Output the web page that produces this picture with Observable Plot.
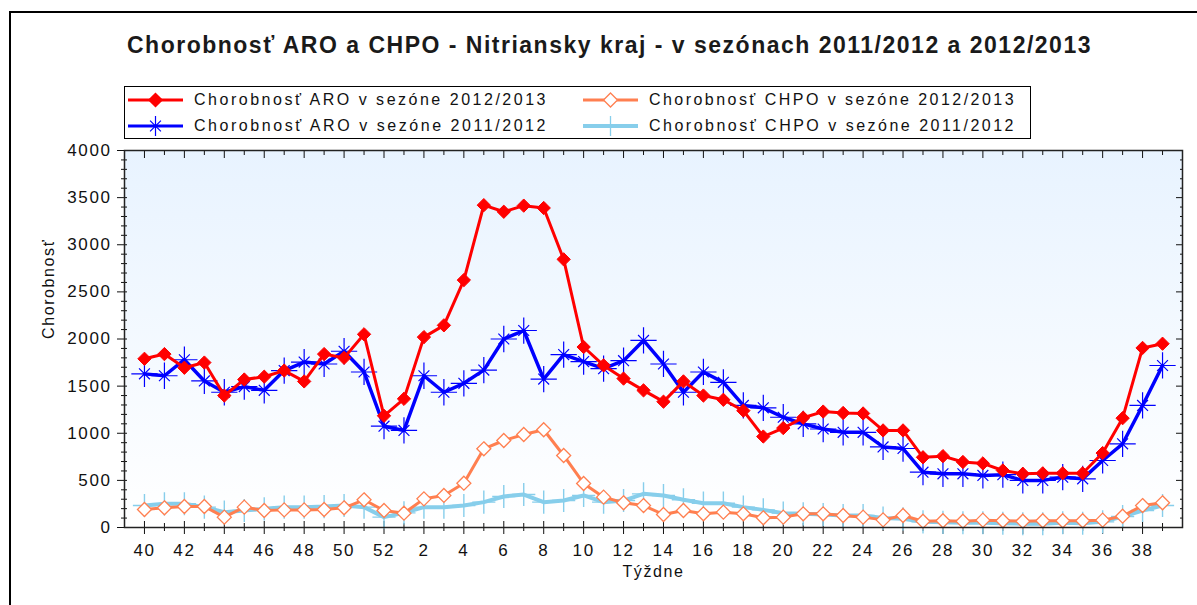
<!DOCTYPE html>
<html><head><meta charset="utf-8">
<script src="https://cdn.jsdelivr.net/npm/d3@7"></script>
<script src="https://cdn.jsdelivr.net/npm/@observablehq/plot@0.6"></script>
<style>
body{margin:0;background:#fff;font-family:"Liberation Sans",Arial,sans-serif;}
#page{position:relative;width:1197px;height:605px;overflow:hidden;background:#fff;}
#border{position:absolute;left:9px;top:11px;width:1400px;height:900px;border-left:2px solid #000;border-top:2px solid #000;}
#title{position:absolute;left:127px;top:31px;font-weight:bold;font-size:23px;white-space:nowrap;color:#1a1a1a;line-height:28px;}
#legend{position:absolute;left:124px;top:86px;width:905px;height:51px;border:1px solid #000;background:#fff;}
.item{position:absolute;display:flex;align-items:center;height:20px;font-size:16px;white-space:nowrap;color:#111;}
.item span{margin-left:10px;}
#chart{position:absolute;left:0;top:140px;}
</style></head>
<body><div id="page"><div id="border"></div>
<div id="title">Chorobnosť ARO a CHPO - Nitriansky kraj - v sezónach 2011/2012 a 2012/2013</div>
<div id="legend"></div>
<div id="chart"></div></div>
<script>
// Weeks of the season (x categories)
const weeks = [40,41,42,43,44,45,46,47,48,49,50,51,52,1,2,3,4,5,6,7,8,9,10,11,12,13,14,15,16,17,18,19,20,21,22,23,24,25,26,27,28,29,30,31,32,33,34,35,36,37,38,39];
const weekTickLabels = [40,42,44,46,48,50,52,2,4,6,8,10,12,14,16,18,20,22,24,26,28,30,32,34,36,38];
const yTicks = [0,500,1000,1500,2000,2500,3000,3500,4000];

// Series
const aro1213 = [1790,1840,1695,1750,1400,1570,1600,1665,1550,1840,1800,2050,1185,
  1365,2020,2145,2625,3420,3350,3415,3390,2845,1915,
  1720,1580,1455,1335,1550,1400,1355,1240,965,1055,
  1165,1230,1215,1210,1030,1030,745,757,695,680,
  605,570,575,575,575,790,1160,1905,1950];
const aro1112 = [1630,1610,1780,1555,1435,1495,1455,1665,1755,1735,1870,1650,1075,
  1030,1610,1435,1530,1670,2000,2090,1575,1835,1760,
  1685,1770,1985,1735,1435,1650,1540,1295,1270,1170,
  1100,1045,1010,1010,855,838,587,570,570,552,
  560,500,500,534,516,711,888,1295,1719];
const chpo1213 = [191,209,223,223,110,216,180,187,187,191,209,294,180,
  152,304,340,470,835,923,987,1037,764,467,
  322,262,233,138,180,145,163,145,103,110,
  145,145,127,110,81,127,67,72,67,78,
  72,67,72,72,72,78,120,233,262];
const chpo1112 = [233,251,252,216,163,180,198,216,216,222,233,216,110,
  155,216,216,233,269,329,350,269,286,340,
  269,286,357,340,294,258,258,216,187,152,
  145,138,127,127,100,92,60,55,50,50,
  45,40,40,50,45,60,117,180,233];

const seriesNames = ["Chorobnosť ARO v sezóne 2012/2013","Chorobnosť ARO v sezóne 2011/2012",
  "Chorobnosť CHPO v sezóne 2012/2013","Chorobnosť CHPO v sezóne 2011/2012"];
const colors = ["#ff0000","#0000ff","#ff7f50","#87ceeb"];

const rows = (vals, s) => vals.map((v, i) => ({i, week: weeks[i], v, s}));
const dA13 = rows(aro1213, seriesNames[0]);
const dA12 = rows(aro1112, seriesNames[1]);
const dC13 = rows(chpo1213, seriesNames[2]);
const dC12 = rows(chpo1112, seriesNames[3]);
const idx = weeks.map((w, i) => i);
const labeledIdx = idx.filter(i => weekTickLabels.includes(weeks[i]));
const oddIdx = idx.filter(i => !weekTickLabels.includes(weeks[i]));
const minorY = d3.range(0, 4001, 100).filter(v => !yTicks.includes(v));

const chart = Plot.plot({
  width: 1197, height: 460,
  marginLeft: 124, marginRight: 15, marginTop: 10, marginBottom: 73,
  style: {fontFamily: "'Liberation Sans', Arial, sans-serif", fontSize: "17px", letterSpacing: "1.6px", color: "#111", background: "transparent"},
  x: {domain: [-1, weeks.length], axis: null},
  y: {domain: [0, 4000], axis: null},
  marks: [
    Plot.frame({fill: "url(#bgGrad)", stroke: null}),
    // y axis
    Plot.axisY(yTicks, {anchor: "left", tickSize: 10, dx: 3, tickPadding: 6, tickFormat: d => String(d), label: null}),
    Plot.axisY(minorY, {anchor: "left", tickSize: 6, dx: 3, fill: "none", label: null}),
    Plot.axisY(yTicks, {anchor: "right", tickSize: 7, dx: -7, fill: "none", label: null}),
    Plot.axisY(minorY, {anchor: "right", tickSize: 3, dx: -3, fill: "none", label: null}),
    // x axis
    Plot.axisX(labeledIdx, {anchor: "bottom", tickSize: 13, dy: -6, fill: "none", label: null}),
    Plot.axisX(oddIdx, {anchor: "bottom", tickSize: 8, dy: -4, fill: "none", label: null}),
    Plot.axisX(labeledIdx, {anchor: "bottom", tickSize: 0, tickPadding: 16, tickFormat: i => String(weeks[i]), label: null}),
    Plot.axisX(labeledIdx, {anchor: "top", tickSize: 7, dy: 7, fill: "none", label: null}),
    Plot.axisX(oddIdx, {anchor: "top", tickSize: 4, dy: 4, fill: "none", label: null}),
    Plot.text(["Chorobnosť"], {frameAnchor: "left", rotate: -90, dx: -76, fontSize: 16}),
    Plot.text(["Týždne"], {frameAnchor: "bottom", dy: 49, fontSize: 16}),
    // CHPO 2011/2012
    Plot.line(dC12, {x: "i", y: "v", stroke: colors[3], strokeWidth: 4}),
    Plot.dot(dC12, {x: "i", y: "v", symbol: "plus", r: 7.5, stroke: colors[3], strokeWidth: 1.4, fill: "none"}),
    // CHPO 2012/2013
    Plot.line(dC13, {x: "i", y: "v", stroke: colors[2], strokeWidth: 3}),
    Plot.dot(dC13, {x: "i", y: "v", symbol: "diamond2", r: 6.3, stroke: colors[2], strokeWidth: 1.3, fill: "#fff"}),
    // ARO 2011/2012
    Plot.line(dA12, {x: "i", y: "v", stroke: colors[1], strokeWidth: 3.5}),
    Plot.dot(dA12, {x: "i", y: "v", symbol: "plus", r: 8.5, stroke: colors[1], strokeWidth: 1.2, fill: "none"}),
    Plot.dot(dA12, {x: "i", y: "v", symbol: "times", r: 5, stroke: colors[1], strokeWidth: 1.2, fill: "none"}),
    // ARO 2012/2013
    Plot.line(dA13, {x: "i", y: "v", stroke: colors[0], strokeWidth: 3}),
    Plot.dot(dA13, {x: "i", y: "v", symbol: "diamond2", r: 6, stroke: colors[0], strokeWidth: 1, fill: colors[0]}),
    Plot.frame({stroke: "#222", strokeWidth: 1.5})
  ]
});
// background gradient for plot area
const defs = d3.select(chart).insert("defs", ":first-child");
const g = defs.append("linearGradient").attr("id", "bgGrad").attr("x1", 0).attr("y1", 0).attr("x2", 0).attr("y2", 1);
g.append("stop").attr("offset", "0%").attr("stop-color", "#e8f3ff");
g.append("stop").attr("offset", "100%").attr("stop-color", "#ffffff");
document.getElementById("chart").appendChild(chart);

// legend
const legend = document.getElementById("legend");
const legendPos = [[3, 3], [3, 29], [458, 3], [458, 29]];
const legendSym = [
  {type: d3.symbolDiamond2, size: Math.PI * 6 * 6, fill: colors[0], stroke: colors[0]},
  {type: "asterisk"},
  {type: d3.symbolDiamond2, size: Math.PI * 6.3 * 6.3, fill: "#fff", stroke: colors[2]},
  {type: d3.symbolPlus, size: Math.PI * 7.5 * 7.5, fill: "none", stroke: colors[3]}
];
const textTargets = [354, 354, 367, 367];
seriesNames.forEach((name, k) => {
  const item = document.createElement("div");
  item.className = "item";
  item.style.left = legendPos[k][0] + "px";
  item.style.top = legendPos[k][1] + "px";
  const svg = d3.create("svg").attr("width", 56).attr("height", 20);
  svg.append("line").attr("x1", 0).attr("x2", 55).attr("y1", 10).attr("y2", 10)
    .attr("stroke", colors[k]).attr("stroke-width", k === 3 ? 4 : 3);
  const sym = legendSym[k];
  if (sym.type === "asterisk") {
    svg.append("path").attr("transform", "translate(27.5,10)").attr("d", d3.symbol(d3.symbolPlus, Math.PI * 8.5 * 8.5)()).attr("stroke", colors[1]).attr("fill", "none").attr("stroke-width", 1.2);
    svg.append("path").attr("transform", "translate(27.5,10)").attr("d", d3.symbol(d3.symbolTimes, Math.PI * 25)()).attr("stroke", colors[1]).attr("fill", "none").attr("stroke-width", 1.2);
  } else {
    svg.append("path").attr("transform", "translate(27.5,10)").attr("d", d3.symbol(sym.type, sym.size)())
      .attr("fill", sym.fill).attr("stroke", sym.stroke).attr("stroke-width", 1.3);
  }
  item.appendChild(svg.node());
  const span = document.createElement("span");
  span.textContent = name;
  item.appendChild(span);
  legend.appendChild(item);
  const w = span.getBoundingClientRect().width;
  span.style.letterSpacing = ((textTargets[k] - w) / name.length) + "px";
});
const title = document.getElementById("title");
const tw = title.getBoundingClientRect().width;
title.style.letterSpacing = ((965 - tw) / title.textContent.length) + "px";
</script></body></html>
